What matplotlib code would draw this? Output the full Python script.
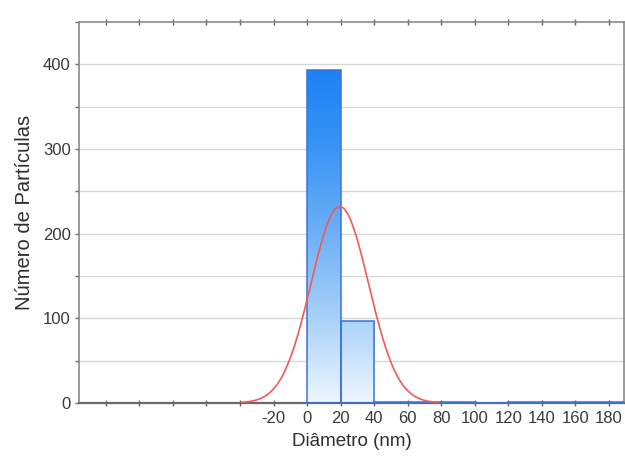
import numpy as np
import matplotlib
matplotlib.use("Agg")
import matplotlib.pyplot as plt
from matplotlib.colors import LinearSegmentedColormap
from matplotlib.ticker import MultipleLocator, FixedLocator

plt.rcParams['font.family'] = ['Liberation Sans', 'DejaVu Sans']

# Histogram of particle diameters (20 nm bins)
bin_edges = [0, 20, 40, 60, 80, 100, 120, 140, 160, 180, 200]
counts = [393, 97, 1, 1, 1, 0, 1, 1, 1, 1]

# Fitted normal curve parameters
fit_mean = 19.5
fit_sd = 17.2
fit_n = 500

x_tick_values = list(range(-120, 181, 20))
x_tick_labels = ['' if v < -20 else str(v) for v in x_tick_values]
y_tick_values = [0, 100, 200, 300, 400]

fig = plt.figure(figsize=(6.25, 4.57), dpi=100)
ax = fig.add_axes([0.1264, 0.1182, 0.8720, 0.8337])

xlim = (-136, 189)
ylim = (0, 450)
ax.set_xlim(*xlim)
ax.set_ylim(*ylim)

# horizontal grid
for yv in np.arange(50, 450, 50):
    ax.axhline(yv, color='#d6d6d6', lw=0.9, zorder=0)

# bars with vertical gradient fill
cmap = LinearSegmentedColormap.from_list(
    'blues', [(0.0, '#eef6ff'), (0.25, '#a8d1f9'), (0.5, '#6eb0f6'),
              (0.75, '#3a95f5'), (1.0, '#1a80f4')])
grad = np.linspace(0, 1, 256).reshape(-1, 1)
widths = np.diff(bin_edges)
bars = ax.bar(bin_edges[:-1], counts, width=widths, align='edge',
              facecolor='none', edgecolor='#3a74d6', linewidth=1.1, zorder=3)
for b in bars:
    if b.get_height() <= 0:
        continue
    im = ax.imshow(grad, cmap=cmap, origin='lower', aspect='auto',
                   extent=[xlim[0], xlim[1], 0, 400], zorder=2, interpolation='bilinear')
    im.set_clip_path(b)
ax.set_xlim(*xlim)
ax.set_ylim(*ylim)

# normal fit curve
xs = np.linspace(fit_mean - 3.4 * fit_sd, fit_mean + 3.4 * fit_sd, 300)
bw = bin_edges[1] - bin_edges[0]
ys = fit_n * bw / (fit_sd * np.sqrt(2 * np.pi)) * np.exp(-0.5 * ((xs - fit_mean) / fit_sd) ** 2)
ax.plot(xs, ys, color='#f25a5a', lw=1.2, zorder=4)

# axes styling
for side in ['left', 'top', 'right']:
    ax.spines[side].set_color('#8a8a8a')
    ax.spines[side].set_linewidth(1.2)
ax.spines['bottom'].set_color('#6a6a6a')
ax.spines['bottom'].set_linewidth(1.6)

ax.xaxis.set_major_locator(FixedLocator(x_tick_values))
ax.set_xticklabels(x_tick_labels)
ax.yaxis.set_major_locator(FixedLocator(y_tick_values))
ax.yaxis.set_minor_locator(MultipleLocator(50))
ax.tick_params(axis='x', which='both', direction='inout', length=4, width=1,
               color='#606060', top=True, labelsize=12, labelcolor='#3a3a3a', pad=4)
ax.tick_params(axis='y', which='both', direction='out', length=3, width=1,
               color='#707070', right=True, labelsize=12, labelcolor='#3a3a3a', pad=3)

ax.set_xlabel('Diâmetro (nm)', fontsize=13.5, color='#2e2e2e', labelpad=5)
ax.set_ylabel('Número de Partículas', fontsize=14.5, color='#2e2e2e', labelpad=6)

fig.savefig('out.png', dpi=100)
